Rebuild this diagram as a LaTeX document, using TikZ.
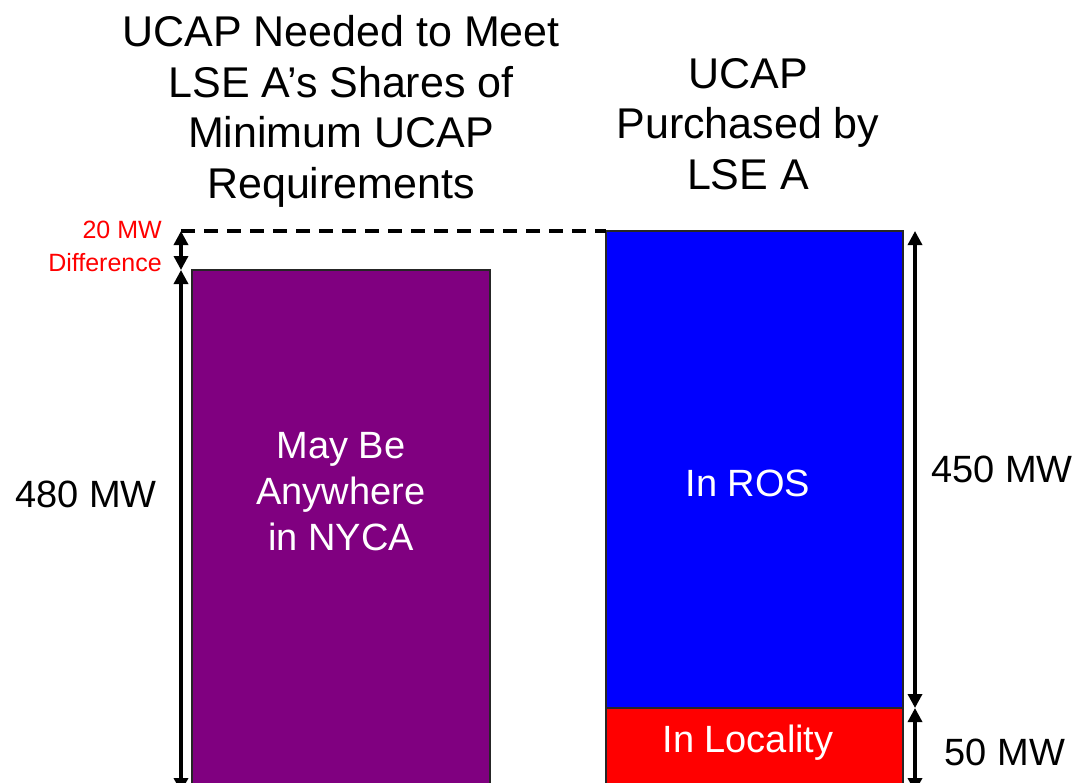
\documentclass[tikz,border=0pt]{standalone}
\usepackage{fontspec}
\setmainfont{Liberation Sans}
\usetikzlibrary{arrows.meta}
\definecolor{barpurple}{HTML}{800080}
\definecolor{barblue}{HTML}{0000FF}
\definecolor{barred}{HTML}{FF0000}
\tikzset{
  bar/.style={draw=black!85, line width=1.2bp, inner sep=0pt, outer sep=0pt, anchor=north west},
  title/.style={align=center, font=\fontsize{43bp}{50.5bp}\selectfont, inner sep=0pt},
  lab/.style={font=\fontsize{38bp}{46bp}\selectfont, inner sep=0pt, align=center},
  inlab/.style={lab, text=white},
  small/.style={font=\fontsize{25bp}{33bp}\selectfont, text=red, inner sep=0pt, align=right},
  tip/.tip={Triangle[length=14bp,width=14bp]},
  dim/.style={line width=3.3bp, tip-tip, shorten <=0pt, shorten >=0pt},
}
\begin{document}
\begin{tikzpicture}[x=1bp,y=-1bp]
\clip (0,0) rectangle (1077,783);
\fill[white] (0,0) rectangle (1077,783);
% bars
\node[bar, fill=barpurple, minimum width=298bp, minimum height=540bp] (pbar) at (192,270) {};
\node[bar, fill=barblue, minimum width=297bp, minimum height=477bp] (bbar) at (606,231) {};
\node[bar, fill=barred, minimum width=297bp, minimum height=100bp] (rbar) at (606,708) {};
% titles
\node[title] (t1) at (341,111.5) {UCAP Needed to Meet\\LSE A’s Shares of\\Minimum UCAP\\Requirements};
\node[title] (t2) at (748,124) {UCAP\\Purchased by\\LSE A};
% bar labels
\node[inlab] (pl) at (341,492) {May Be\\Anywhere\\in NYCA};
\node[inlab] (bl) at (748,483) {In ROS};
\node[inlab] (rl) at (748,743) {In Locality};
% dimension coordinates
\coordinate (la) at (181,231);
\coordinate (lb) at (181,270);
\coordinate (lc) at (181,792);
\coordinate (ra) at (915,231);
\coordinate (rb) at (915,708);
\coordinate (rc) at (915,792);
\draw[line width=3.3bp, dash pattern=on 14bp off 9bp] (la) -- (bbar.north west);
\draw[dim] (la) -- (lb);
\draw[dim] (lb) -- (lc);
\draw[dim] (ra) -- (rb);
\draw[dim] (rb) -- (rc);
% dimension labels
\node[small] (dl) at (105,246) {20 MW\\Difference};
\node[lab] (l480) at (86,494) {480 MW};
\node[lab] (l450) at (1002,469) {450 MW};
\node[lab] (l50) at (1005,752) {50 MW};
\end{tikzpicture}
\end{document}
